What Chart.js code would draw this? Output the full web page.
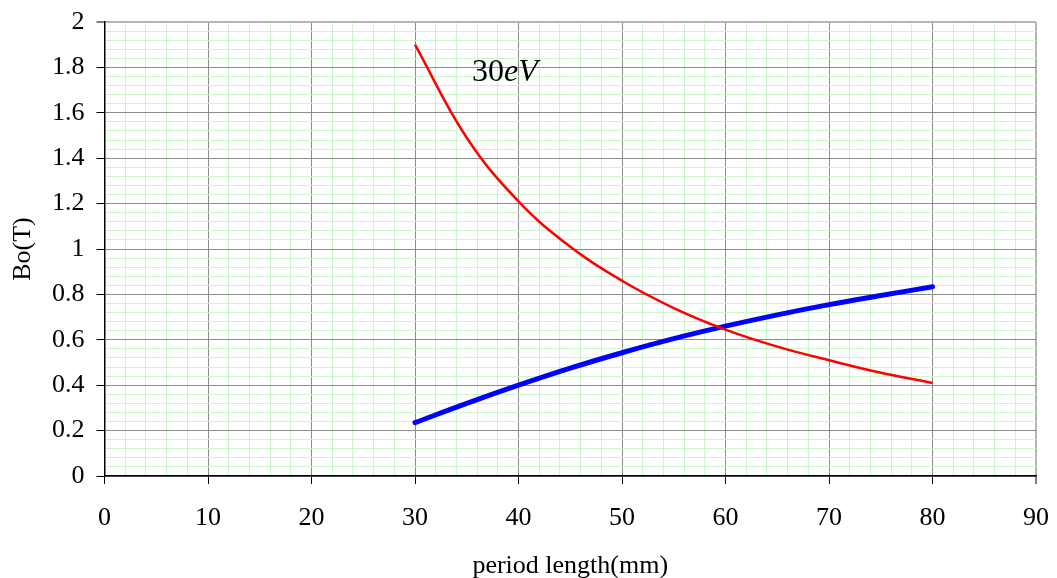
<!DOCTYPE html>
<html>
<head>
<meta charset="utf-8">
<script src="https://cdn.jsdelivr.net/npm/chart.js@4.4.1/dist/chart.umd.min.js"></script>
<style>
html,body{margin:0;padding:0;background:#fff;}
#wrap{width:1057px;height:578px;position:relative;}
</style>
</head>
<body>
<div id="wrap"><canvas id="c" width="1057" height="578"></canvas></div>
<script>
// Data
const periodLength = [30, 35, 40, 45, 50, 55, 60, 65, 70, 75, 80];
const redSeries    = [1.90, 1.49, 1.21, 1.01, 0.86, 0.74, 0.645, 0.57, 0.51, 0.455, 0.41];
const blueSeries   = [0.235, 0.32, 0.40, 0.475, 0.543, 0.605, 0.66, 0.71, 0.755, 0.795, 0.834];
const xTickLabels  = [0, 10, 20, 30, 40, 50, 60, 70, 80, 90];
const yTickLabels  = [0, 0.2, 0.4, 0.6, 0.8, 1, 1.2, 1.4, 1.6, 1.8, 2];
const annotationText = { num: "30", unit: "eV", x: 35.5, y: 1.741 };

const toPts = (xs, ys) => xs.map((x, i) => ({ x: x, y: ys[i] }));
const FONT = "'Liberation Serif','Times New Roman',serif";

function isMajor(v, step) {
  const r = v / step;
  return Math.abs(r - Math.round(r)) < 1e-6;
}
function gridColor(step, max) {
  return (ctx) => {
    const v = ctx.tick ? ctx.tick.value : 0;
    if (Math.abs(v - max) < 1e-6) return '#b4b4b4';
    return isMajor(v, step) ? '#8c8c8c' : '#ccf5cc';
  };
}
function gridWidth(max) {
  return (ctx) => {
    const v = ctx.tick ? ctx.tick.value : 0;
    return Math.abs(v - max) < 1e-6 ? 2 : 1;
  };
}

const annotate = {
  id: 'annotate',
  afterDatasetsDraw(chart) {
    const c = chart.ctx;
    const px = chart.scales.x.getPixelForValue(annotationText.x);
    const py = chart.scales.y.getPixelForValue(annotationText.y);
    c.save();
    c.fillStyle = '#000';
    c.textBaseline = 'alphabetic';
    c.font = "32px " + FONT;
    c.fillText(annotationText.num, px, py);
    const w = c.measureText(annotationText.num).width;
    c.font = "italic 32px " + FONT;
    c.fillText(annotationText.unit, px + w, py);
    c.restore();
  }
};

new Chart(document.getElementById('c'), {
  type: 'scatter',
  data: {
    datasets: [
      {
        data: toPts(periodLength, redSeries),
        showLine: true,
        borderColor: '#ff0000',
        borderWidth: 2.5,
        pointRadius: 0,
        tension: 0.4,
        fill: false
      },
      {
        data: toPts(periodLength, blueSeries),
        showLine: true,
        borderColor: '#0000ff',
        borderWidth: 5,
        borderCapStyle: 'round',
        pointRadius: 0,
        tension: 0.4,
        fill: false
      }
    ]
  },
  options: {
    responsive: false,
    animation: false,
    devicePixelRatio: 1,
    layout: { padding: { top: 22, right: 21, left: 0, bottom: 0 } },
    plugins: { legend: { display: false }, tooltip: { enabled: false } },
    scales: {
      x: {
        type: 'linear',
        min: 0, max: 90,
        afterFit: (s) => { s.height = 102; s.paddingLeft = 0; s.paddingRight = 0; },
        ticks: {
          stepSize: 2,
          autoSkip: false,
          maxRotation: 0,
          padding: 19,
          color: '#000',
          font: { family: FONT, size: 26 },
          callback: (v) => isMajor(v, 10) && xTickLabels.includes(Math.round(v)) ? String(Math.round(v)) : ''
        },
        grid: {
          color: gridColor(10, 90),
          lineWidth: gridWidth(90),
          tickLength: 8,
          tickColor: (ctx) => isMajor(ctx.tick.value, 10) ? '#000' : 'rgba(0,0,0,0)',
          tickWidth: 1
        },
        border: { color: '#000', width: 1.5 },
        title: {
          display: true,
          text: 'period length(mm)',
          color: '#000',
          font: { family: FONT, size: 26, lineHeight: 0.9 },
          padding: { top: 0, bottom: 0 }
        }
      },
      y: {
        type: 'linear',
        min: 0, max: 2,
        afterFit: (s) => { s.width = 104.5; s.paddingTop = 0; s.paddingBottom = 0; },
        ticks: {
          stepSize: 0.04,
          autoSkip: false,
          padding: 12,
          color: '#000',
          font: { family: FONT, size: 26 },
          callback: (v) => {
            if (!isMajor(v, 0.2)) return '';
            const r = Math.round(v * 10) / 10;
            return yTickLabels.includes(r) ? String(r) : '';
          }
        },
        grid: {
          color: gridColor(0.2, 2),
          lineWidth: gridWidth(2),
          tickLength: 8,
          tickColor: (ctx) => isMajor(ctx.tick.value, 0.2) ? '#000' : 'rgba(0,0,0,0)',
          tickWidth: 1
        },
        border: { color: '#000', width: 1.5 },
        title: {
          display: true,
          text: 'Bo(T)',
          color: '#000',
          font: { family: FONT, size: 26 },
          padding: { top: 8, bottom: 0 }
        }
      }
    }
  },
  plugins: [annotate]
});
</script>
</body>
</html>
